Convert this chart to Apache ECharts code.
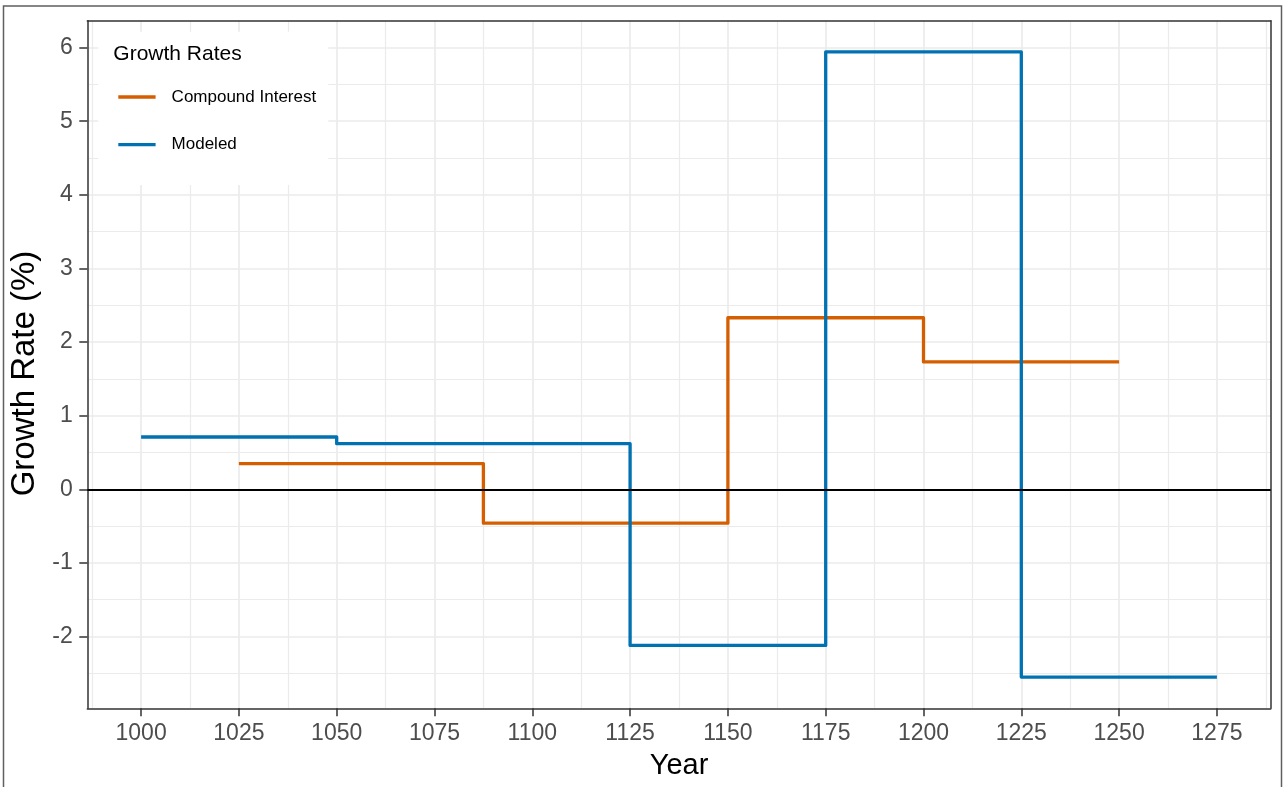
<!DOCTYPE html>
<html><head><meta charset="utf-8">
<script src="https://cdn.jsdelivr.net/npm/echarts@6/dist/echarts.min.js"></script>
<style>html,body{margin:0;padding:0;background:#fff}#c{width:1283px;height:787px}</style>
</head><body><div id="c"></div>
<script>
// ---- data ----
const seriesNames = ['Compound Interest', 'Modeled'];
const compoundYears = [1025, 1087.5, 1150, 1200, 1250];
const compoundRates = [0.35, -0.46, 2.33, 1.73, 1.73];
const modeledYears = [1000, 1050, 1125, 1175, 1225, 1275];
const modeledRates = [0.71, 0.62, -2.12, 5.94, -2.55, -2.55];
const xTicks = [1000, 1025, 1050, 1075, 1100, 1125, 1150, 1175, 1200, 1225, 1250, 1275];
const xMinorTicks = [987.5, 1012.5, 1037.5, 1062.5, 1087.5, 1112.5, 1137.5, 1162.5, 1187.5, 1212.5, 1237.5, 1262.5, 1287.5];
const yTicks = [-2, -1, 0, 1, 2, 3, 4, 5, 6];
const yMinorTicks = [-2.5, -1.5, -0.5, 0.5, 1.5, 2.5, 3.5, 4.5, 5.5];
const xRange = [986.25, 1288.75];
const yRange = [-2.9745, 6.3645];

const FONT = "'Liberation Sans', Arial, sans-serif";
const colors = ['#D55E00', '#0072B2'];
const pair = (xs, ys) => xs.map((x, i) => [x, ys[i]]);
const plain = v => String(v);

const chart = echarts.init(document.getElementById('c'), null, {renderer: 'canvas'});
const axisLine = {show: true, onZero: false, lineStyle: {color: '#333333', width: 1.5}};
const option = {
  animation: false,
  backgroundColor: '#ffffff',
  grid: {left: 87.3, right: 12.3, top: 20.7, bottom: 78.7, show: false, containLabel: false},
  xAxis: [{
    type: 'value', min: xRange[0], max: xRange[1], position: 'bottom',
    axisLine: axisLine,
    axisTick: {show: true, length: 8, lineStyle: {color: '#333333', width: 1.5}, customValues: xTicks},
    axisLabel: {customValues: xTicks, formatter: plain, fontSize: 23, color: '#4D4D4D', fontFamily: FONT, margin: 14},
    splitLine: {show: true, lineStyle: {color: '#EBEBEB', width: 1.7}},
    name: 'Year', nameLocation: 'middle', nameGap: 43,
    nameTextStyle: {fontSize: 29, color: '#000', fontFamily: FONT}
  }, {
    type: 'value', min: xRange[0], max: xRange[1], position: 'top',
    axisLine: axisLine,
    axisTick: {show: false, customValues: xMinorTicks},
    axisLabel: {show: false},
    splitLine: {show: true, lineStyle: {color: '#EBEBEB', width: 1.2}}
  }],
  yAxis: [{
    type: 'value', min: yRange[0], max: yRange[1], position: 'left',
    axisLine: axisLine,
    axisTick: {show: true, length: 8, lineStyle: {color: '#333333', width: 1.5}, customValues: yTicks},
    axisLabel: {customValues: yTicks, formatter: plain, fontSize: 23, color: '#4D4D4D', fontFamily: FONT, margin: 14.5},
    splitLine: {show: true, lineStyle: {color: '#EBEBEB', width: 1.7}},
    name: 'Growth Rate (%)', nameLocation: 'middle', nameGap: 44.5,
    nameTextStyle: {fontSize: 33, color: '#000', fontFamily: FONT, padding: [0, 18, 0, 0]}
  }, {
    type: 'value', min: yRange[0], max: yRange[1], position: 'right',
    axisLine: axisLine,
    axisTick: {show: false, customValues: yMinorTicks},
    axisLabel: {show: false},
    splitLine: {show: true, lineStyle: {color: '#EBEBEB', width: 1.2}}
  }],
  legend: {
    data: seriesNames, orient: 'vertical', left: 118.3, top: 88.5,
    itemWidth: 37.3, itemHeight: 3.3, itemGap: 30.7, icon: 'rect', padding: 0,
    textStyle: {fontSize: 17, color: '#000', fontFamily: FONT, lineHeight: 17, padding: [0, 0, 0, 11]},
    selectedMode: false, z: 10
  },
  graphic: [
    {type: 'rect', z: 3, silent: true, shape: {x: 98.3, y: 31.7, width: 230, height: 153.3}, style: {fill: '#ffffff'}},
    {type: 'text', z: 11, silent: true, x: 113.3, y: 54, style: {text: 'Growth Rates', font: '21px ' + FONT, fill: '#000', verticalAlign: 'middle', align: 'left'}},
    {type: 'rect', z: 20, silent: true, shape: {x: 3.5, y: 6, width: 1278, height: 800}, style: {fill: 'none', stroke: '#5f5f5f', lineWidth: 1.5}}
  ],
  series: [{
    name: seriesNames[0], type: 'line', step: 'end', data: pair(compoundYears, compoundRates),
    showSymbol: false, symbol: 'none', color: colors[0],
    lineStyle: {color: colors[0], width: 3.3, join: 'round'}, emphasis: {disabled: true}, z: 2
  }, {
    name: seriesNames[1], type: 'line', step: 'end', data: pair(modeledYears, modeledRates),
    showSymbol: false, symbol: 'none', color: colors[1],
    lineStyle: {color: colors[1], width: 3.3, join: 'round'}, emphasis: {disabled: true}, z: 2
  }, {
    name: 'zero', type: 'line', data: [], z: 4,
    markLine: {silent: true, symbol: ['none', 'none'], label: {show: false},
      lineStyle: {color: '#000', width: 2, type: 'solid'}, emphasis: {disabled: true},
      data: [{yAxis: 0}]}
  }]
};
chart.setOption(option);
</script>
</body></html>
